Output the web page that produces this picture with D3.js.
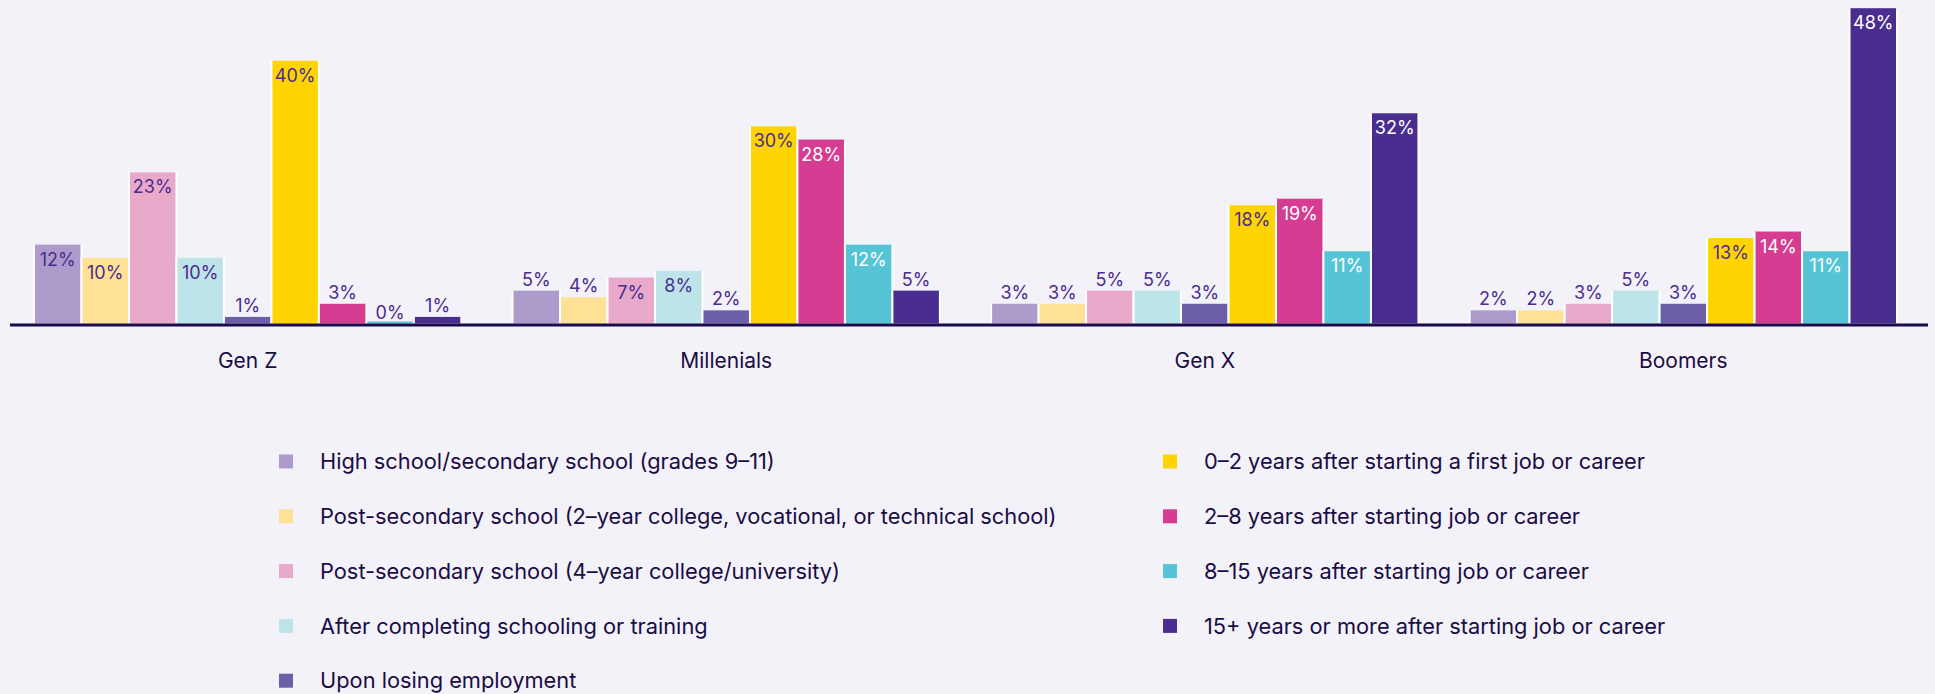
<!DOCTYPE html>
<html>
<head>
<meta charset="utf-8">
<script src="https://cdn.jsdelivr.net/npm/d3@7"></script>
<style>
  html, body { margin: 0; padding: 0; background: #f3f2f8; }
  svg { display: block; font-family: Inter, "Noto Sans", sans-serif; }
</style>
</head>
<body>
<svg id="chart" width="1935" height="694"></svg>
<script>
// Generations along the x axis
const generations = ["Gen Z", "Millenials", "Gen X", "Boomers"];

// Life stages (one bar per stage within each generation)
const stages = [
  "High school/secondary school (grades 9–11)",
  "Post-secondary school (2–year college, vocational, or technical school)",
  "Post-secondary school (4–year college/university)",
  "After completing schooling or training",
  "Upon losing employment",
  "0–2 years after starting a first job or career",
  "2–8 years after starting job or career",
  "8–15 years after starting job or career",
  "15+ years or more after starting job or career"
];

// Percent per stage, in generation order
const highSchool      = [12, 5, 3, 2];
const postSecTwoYear  = [10, 4, 3, 2];
const postSecFourYear = [23, 7, 5, 3];
const afterSchooling  = [10, 8, 5, 5];
const losingJob       = [1, 2, 3, 3];
const firstJob0to2    = [40, 30, 18, 13];
const job2to8         = [3, 28, 19, 14];
const job8to15        = [0, 12, 11, 11];
const job15plus       = [1, 5, 32, 48];

const seriesValues = [highSchool, postSecTwoYear, postSecFourYear, afterSchooling,
                      losingJob, firstJob0to2, job2to8, job8to15, job15plus];

const stageColors = ["#ad9bcb", "#ffe196", "#e8a9cb", "#bce4e9", "#6d5ea8",
                     "#ffd400", "#d63c91", "#56c4d7", "#4a2e8f"];
// Label colour for values drawn inside dark bars
const lightLabel = [false, false, false, false, false, false, true, true, true];

const svg = d3.select("#chart");
svg.append("rect").attr("width", 1935).attr("height", 694).attr("fill", "#f3f2f8");

const x0 = d3.scaleBand().domain(generations).range([34, 1897]).paddingInner(0.107).paddingOuter(0);
const x1 = d3.scaleBand().domain(stages).range([0, x0.bandwidth()]).padding(0);
const y = d3.scaleLinear().domain([0, 48]).range([323.5, 8.2]);

const rows = [];
generations.forEach((g, gi) => {
  stages.forEach((s, si) => {
    rows.push({ gen: g, stage: s, si, value: seriesValues[si][gi] });
  });
});

const groups = svg.append("g");
const bw = x1.bandwidth();

// Bars, separated by thin white vertical edges
groups.selectAll("rect.bar")
  .data(rows)
  .join("rect")
  .attr("class", "bar")
  .attr("x", d => x0(d.gen) + x1(d.stage))
  .attr("width", bw)
  .attr("y", d => Math.min(y(d.value), y(0) - 2))
  .attr("height", d => Math.max(y(0) - y(d.value), 2))
  .attr("fill", d => stageColors[d.si])
  .attr("stroke", "#ffffff")
  .attr("stroke-width", 2)
  .attr("stroke-dasharray", d => {
    const h = Math.max(y(0) - y(d.value), 2);
    return `0,${bw},${h},${bw},${h}`;
  });

// Value labels: inside the top of tall bars, above short ones
groups.selectAll("text.val")
  .data(rows)
  .join("text")
  .attr("class", "val")
  .attr("x", d => x0(d.gen) + x1(d.stage) + bw / 2)
  .attr("y", d => d.value >= 7 ? y(d.value) + 21 : y(d.value) - 5)
  .attr("text-anchor", "middle")
  .attr("font-size", 18)
  .attr("fill", d => (d.value >= 7 && lightLabel[d.si]) ? "#ffffff" : "#4b2c8f")
  .text(d => d.value + "%");

// Baseline
svg.append("line")
  .attr("x1", 10).attr("x2", 1928)
  .attr("y1", y(0) + 1.5).attr("y2", y(0) + 1.5)
  .attr("stroke", "#1b0b4b").attr("stroke-width", 3);

// Generation labels
svg.selectAll("text.gen")
  .data(generations)
  .join("text")
  .attr("class", "gen")
  .attr("x", d => x0(d) + x0.bandwidth() / 2)
  .attr("y", 368)
  .attr("text-anchor", "middle")
  .attr("font-size", 21)
  .attr("fill", "#1a0d45")
  .text(d => d);

// Legend: two columns
const legendCols = [
  { swatchX: 279, textX: 320, items: [0, 1, 2, 3, 4] },
  { swatchX: 1163, textX: 1204, items: [5, 6, 7, 8] }
];
const rowStep = 54.8, firstRow = 461.5;

legendCols.forEach(col => {
  const lg = svg.append("g");
  const items = lg.selectAll("g").data(col.items).join("g")
    .attr("transform", (d, i) => `translate(0,${firstRow + i * rowStep})`);
  items.append("rect")
    .attr("x", col.swatchX).attr("y", -7)
    .attr("width", 14).attr("height", 14)
    .attr("fill", d => stageColors[d]);
  items.append("text")
    .attr("x", col.textX).attr("y", 0)
    .attr("dy", "0.35em")
    .attr("font-size", 21.8)
    .attr("fill", "#1a0d45")
    .text(d => stages[d]);
});
</script>
</body>
</html>
